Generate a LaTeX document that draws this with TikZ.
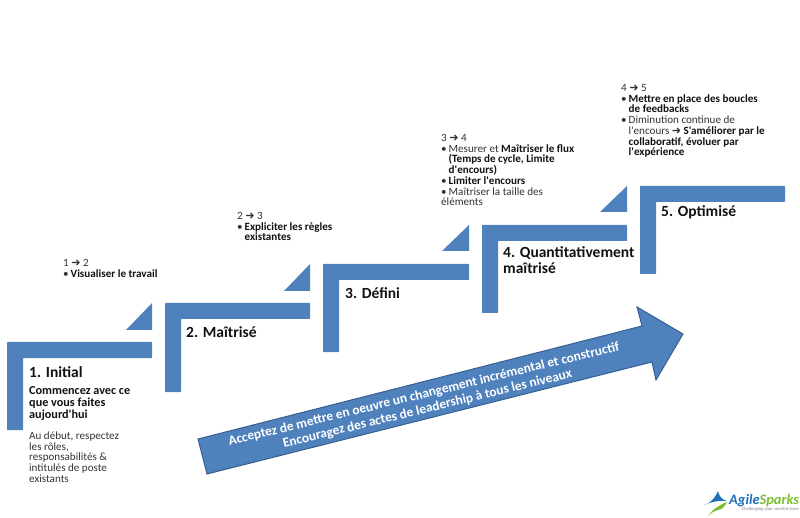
\documentclass[tikz,border=0pt]{standalone}
\usepackage{fontspec}
\defaultfontfeatures[\rmfamily]{}
\setmainfont{Carlito}
\newfontfamily\dejavu{DejaVu Sans}
\definecolor{stepblue}{HTML}{4F81BD}
\definecolor{arrowedge}{HTML}{376092}
\definecolor{bodygrey}{HTML}{333333}
\definecolor{titleink}{HTML}{111111}
\definecolor{logoblue}{HTML}{1F70B8}
\definecolor{logogreen}{HTML}{7DBE2E}
\newcommand{\harrow}{{\dejavu\char"279C}}
\newcommand{\bul}{\makebox[7.5pt][l]{\textbullet}}
\newcommand{\ind}{\hspace*{7.5pt}}
\tikzset{
  stair/.style={fill=stepblue,draw=none,rounded corners=0.6pt},
  wedge/.style={fill=stepblue,draw=none},
  steptitle/.style={anchor=north west,inner sep=0pt,align=left,text=titleink,font=\fontsize{15.5}{15.5}\selectfont\bfseries},
  levelnote/.style={anchor=north west,inner sep=0pt,align=left,text=bodygrey,font=\fontsize{11.1}{10.75}\selectfont},
  boldnote/.style={anchor=north west,inner sep=0pt,align=left,text=titleink,font=\fontsize{12.2}{12.3}\selectfont\bfseries},
  bigarrow/.style={fill=stepblue,draw=arrowedge,line width=1pt,line join=miter},
  arrowtext/.style={text=white,inner sep=0pt,rotate=13.7,font=\fontsize{13.4}{14}\selectfont\bfseries},
}
\newcommand{\stairshape}[6]{\path[stair] (#1,#2) -- (#3,#2) -- (#3,#4) -- (#5,#4) -- (#5,#6) -- (#1,#6) -- cycle;}
\begin{document}
\begin{tikzpicture}[x=1pt,y=-1pt]
\useasboundingbox (0,0) rectangle (800,518);
% stairs
\stairshape{7}{342}{152}{358}{23}{430}
\stairshape{165}{303}{310}{319}{181}{392}
\stairshape{323}{264}{469}{280}{339}{352}
\stairshape{482}{225}{627}{241}{498}{313}
\stairshape{640}{186}{785}{202}{656}{274}
% wedges
\path[wedge] (126,330) -- (152,303) -- (152,330) -- cycle;
\path[wedge] (284,291) -- (310,264) -- (310,291) -- cycle;
\path[wedge] (442,251) -- (469,225) -- (469,251) -- cycle;
\path[wedge] (600,212) -- (627,186) -- (627,212) -- cycle;
% big arrow
\path[bigarrow] (198,439) -- (642,326) -- (637,307) -- (683,334) -- (656,380) -- (652,362) -- (207,474) -- cycle;
\node[arrowtext] (arrowlabela) at (424,394.5) {Acceptez de mettre en oeuvre un changement incrémental et constructif};
\node[arrowtext] (arrowlabelb) at (427.5,409) {Encouragez des actes de leadership à tous les niveaux};
% step titles
\node[steptitle] (t1) at (29,366) {1. Initial};
\node[steptitle] (t2) at (186,326) {2. Maîtrisé};
\node[steptitle] (t3) at (345,287) {3. Défini};
\node[steptitle] (t4) at (503,246.5) {4. Quantitativement\\[0.5pt]maîtrisé};
\node[steptitle] (t5) at (661,205.5) {5. Optimisé};
% step 1 body
\node[boldnote] (b1) at (29,386) {Commencez avec ce\\que vous faites\\aujourd'hui};
\node[levelnote] (n1) at (29,431.5) {Au début, respectez\\les rôles,\\responsabilités \&\\intitulés de poste\\existants};
% transitions
\node[levelnote] (tr12) at (63,259) {1 \harrow{} 2\\\bul\textbf{\textcolor{titleink}{Visualiser le travail}}};
\node[levelnote] (tr23) at (237,212) {2 \harrow{} 3\\\bul\textbf{\textcolor{titleink}{Expliciter les règles}}\\\ind\textbf{\textcolor{titleink}{existantes}}};
\node[levelnote] (tr34) at (441,134) {3 \harrow{} 4\\\bul Mesurer et \textbf{\textcolor{titleink}{Maîtriser le flux}}\\\ind\textbf{\textcolor{titleink}{(Temps de cycle, Limite}}\\\ind\textbf{\textcolor{titleink}{d'encours)}}\\\bul\textbf{\textcolor{titleink}{Limiter l'encours}}\\\bul Maîtriser la taille des\\éléments};
\node[levelnote] (tr45) at (621,84) {4 \harrow{} 5\\\bul\textbf{\textcolor{titleink}{Mettre en place des boucles}}\\\ind\textbf{\textcolor{titleink}{de feedbacks}}\\\bul Diminution continue de\\\ind l'encours \harrow{} \textbf{\textcolor{titleink}{S'améliorer par le}}\\\ind\textbf{\textcolor{titleink}{collaboratif, évoluer par}}\\\ind\textbf{\textcolor{titleink}{l'expérience}}};
% logo
\path[fill=logoblue] (704,505) .. controls (711,503) and (715,498) .. (718,491) .. controls (719,496) and (722,500) .. (727,501) .. controls (720,500) and (711,502) .. (704,505) -- cycle;
\path[fill=logogreen] (708,516) .. controls (712,510) and (719,505) .. (727,502) .. controls (725,506) and (722,510) .. (718,510) .. controls (714,511) and (711,513) .. (708,516) -- cycle;
\node[anchor=west,inner sep=0pt,font=\fontsize{14.4}{15}\selectfont\bfseries\itshape] (logotext) at (729,501) {\textcolor{logoblue}{Agile}\textcolor{logogreen}{Sparks}};
\node[anchor=east,inner sep=0pt,text=gray,font=\fontsize{4.6}{5}\selectfont] (logotag) at (799,509) {Challenging your comfort zone};
\end{tikzpicture}
\end{document}
